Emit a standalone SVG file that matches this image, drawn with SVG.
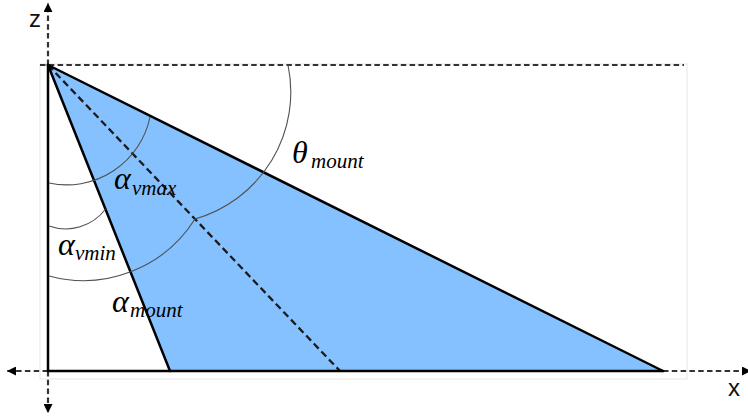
<svg xmlns="http://www.w3.org/2000/svg" width="748" height="419" viewBox="0 0 748 419">
<defs>
<style>
.axis{stroke:#333;stroke-width:2.2;stroke-dasharray:5.5 3.3;fill:none}
.solid{stroke:#000;stroke-width:2.5;fill:none;stroke-linecap:round}
.arc{stroke:#505050;stroke-width:1.1;fill:none}
.lbl{font-family:"Liberation Serif","DejaVu Serif",serif;font-style:italic;fill:#000}
.big{font-size:32px}
.sub{font-size:21px}
.ax{font-family:"Liberation Sans","Open Sans",sans-serif;font-size:24px;fill:#111}
</style>
<marker id="ah" viewBox="0 0 10 10" refX="10" refY="5" markerWidth="9" markerHeight="9" markerUnits="userSpaceOnUse" orient="auto">
<path d="M0,0 L10,5 L0,10 Z" fill="#000"/>
</marker>
</defs>
<rect x="40" y="64" width="647" height="315" fill="none" stroke="#e6e6e6" stroke-width="1"/>
<g id="triangle">
<polygon points="48,65 170,371 663,371" fill="#86C1FF"/>
</g>
<g id="connectors">
<line class="axis" x1="40" y1="65" x2="684" y2="65"/>
<line class="axis" x1="48" y1="65" x2="48" y2="3" marker-end="url(#ah)"/>
<line class="axis" x1="48" y1="371" x2="48" y2="413" marker-end="url(#ah)"/>
<line class="axis" x1="48" y1="371" x2="7" y2="371" marker-end="url(#ah)"/>
<line class="axis" x1="663" y1="371" x2="751" y2="371" marker-end="url(#ah)"/>
<line x1="48" y1="65" x2="340" y2="371" stroke="#1a1a1a" stroke-width="2.3" stroke-dasharray="7 4"/>
<line class="solid" x1="48" y1="65" x2="48" y2="371"/>
<line class="solid" x1="48" y1="371" x2="663" y2="371"/>
<line class="solid" x1="48" y1="65" x2="170" y2="371"/>
<line class="solid" x1="48" y1="65" x2="663" y2="371"/>
<path class="arc" d="M49,183 A85,85 0 0 0 150,117"/>
<path class="arc" d="M49,226 A50,50 0 0 0 105.6,209"/>
<path class="arc" d="M49,276 A132,132 0 0 0 195,219"/>
<path class="arc" d="M288,65 A132,132 0 0 1 195,219"/>
</g>
<g id="labels">
<text class="lbl" x="292" y="163"><tspan class="big">θ</tspan><tspan class="sub" x="311" y="168">mount</tspan></text>
<text class="lbl" x="114" y="189"><tspan class="big">α</tspan><tspan class="sub" x="132" y="195">vmax</tspan></text>
<text class="lbl" x="58" y="255"><tspan class="big">α</tspan><tspan class="sub" x="75" y="260">vmin</tspan></text>
<text class="lbl" x="112" y="312"><tspan class="big">α</tspan><tspan class="sub" x="130" y="317">mount</tspan></text>
<text class="ax" x="29" y="27">z</text>
<text class="ax" x="728" y="396">x</text>
</g>
</svg>
